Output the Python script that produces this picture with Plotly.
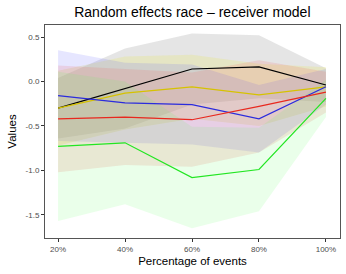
import plotly.graph_objects as go

x_pct = [20, 40, 60, 80, 100]
x_labels = ["20%", "40%", "60%", "80%", "100%"]

black_mean = [-0.30, -0.08, 0.14, 0.165, -0.04]
black_lo = [-0.64, -0.53, -0.26, -0.19, -0.23]
black_hi = [0.04, 0.37, 0.54, 0.52, 0.15]

yellow_mean = [-0.30, -0.13, -0.06, -0.15, -0.06]
yellow_lo = [-0.72, -0.54, -0.42, -0.50, -0.28]
yellow_hi = [0.12, 0.28, 0.30, 0.20, 0.16]

blue_mean = [-0.16, -0.24, -0.26, -0.42, -0.06]
blue_lo = [-0.67, -0.69, -0.71, -0.80, -0.26]
blue_hi = [0.35, 0.21, 0.19, -0.04, 0.14]

red_mean = [-0.42, -0.40, -0.43, -0.28, -0.12]
red_lo = [-1.02, -0.94, -0.96, -0.80, -0.35]
red_hi = [0.18, 0.14, 0.10, 0.24, 0.11]

green_mean = [-0.73, -0.69, -1.08, -0.99, -0.19]
green_lo = [-1.57, -1.38, -1.65, -1.46, -0.40]
green_hi = [0.11, 0.00, -0.51, -0.52, 0.02]

series = [
    ("black", black_mean, black_lo, black_hi, "#000000", "rgba(150,150,150,0.25)"),
    ("yellow", yellow_mean, yellow_lo, yellow_hi, "#d6c200", "rgba(230,230,110,0.28)"),
    ("blue", blue_mean, blue_lo, blue_hi, "#2b2bdd", "rgba(90,90,255,0.15)"),
    ("red", red_mean, red_lo, red_hi, "#e8281e", "rgba(240,80,80,0.15)"),
    ("green", green_mean, green_lo, green_hi, "#22e622", "rgba(80,255,80,0.12)"),
]

fig = go.Figure()
for name, m, lo, hi, lc, fc in series:
    fig.add_trace(go.Scatter(x=x_pct, y=lo, mode="lines", line=dict(width=0),
                             hoverinfo="skip", showlegend=False))
    fig.add_trace(go.Scatter(x=x_pct, y=hi, mode="lines", line=dict(width=0),
                             fill="tonexty", fillcolor=fc, hoverinfo="skip",
                             showlegend=False))
for name, m, lo, hi, lc, fc in series:
    fig.add_trace(go.Scatter(x=x_pct, y=m, mode="lines", line=dict(color=lc, width=1.2),
                             name=name, showlegend=False))

axis_common = dict(showgrid=False, zeroline=False, showline=True, mirror=True,
                   linecolor="#555555", linewidth=1, ticks="outside", ticklen=3,
                   tickcolor="#333333", tickfont=dict(size=8, color="#4d4d4d"))

fig.update_layout(
    width=346, height=274,
    margin=dict(l=45, r=6, t=25, b=36),
    paper_bgcolor="white", plot_bgcolor="white",
    font=dict(family="Liberation Sans, Arial, sans-serif", color="#000000"),
    title=dict(text="Random effects race – receiver model", x=0.556, xanchor="center",
               y=0.955, yanchor="middle", font=dict(size=14)),
    xaxis=dict(range=[16.1, 104.2], tickvals=x_pct, ticktext=x_labels,
               title=dict(text="Percentage of events", font=dict(size=11.5), standoff=4),
               **axis_common),
    yaxis=dict(range=[-1.76, 0.635], tickvals=[-1.5, -1.0, -0.5, 0.0, 0.5],
               ticktext=["-1.5", "-1.0", "-0.5", "0.0", "0.5"],
               title=dict(text="Values", font=dict(size=11.5), standoff=6),
               **axis_common),
)

fig.write_html("out.html", config={"displayModeBar": False},
               post_script="document.body.style.margin='0';")
